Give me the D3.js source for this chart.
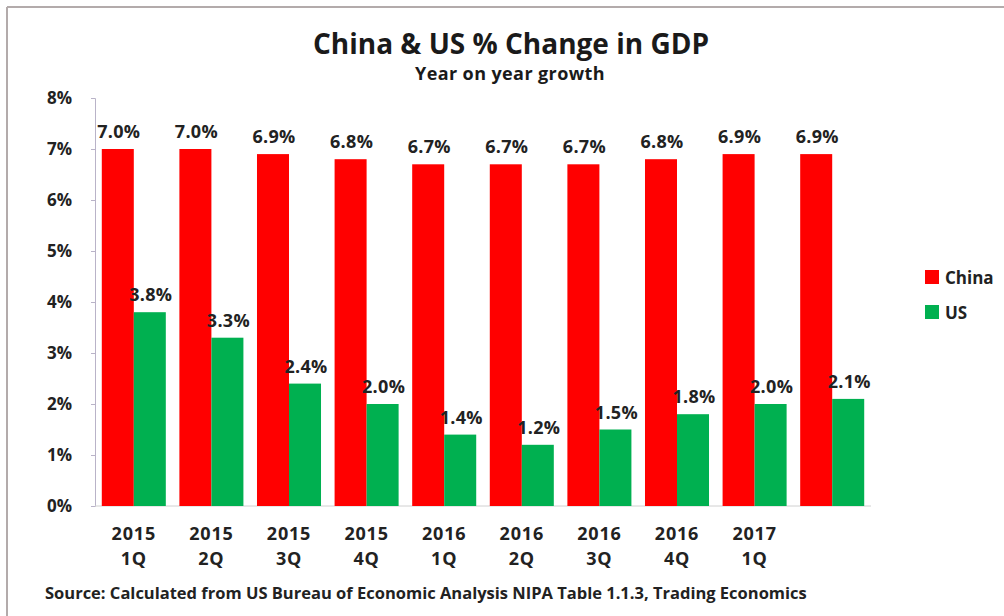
<!DOCTYPE html>
<html>
<head>
<meta charset="utf-8">
<script src="https://cdn.jsdelivr.net/npm/d3@7"></script>
<style>
  html, body { margin: 0; padding: 0; background: #fff; }
  svg { display: block; font-family: "Open Sans", Lato, sans-serif; }
</style>
</head>
<body>
<svg id="chart" width="1004" height="616"></svg>
<script>
// Quarterly year-on-year GDP growth, percent
const quarters = ["2015 1Q", "2015 2Q", "2015 3Q", "2015 4Q", "2016 1Q", "2016 2Q", "2016 3Q", "2016 4Q", "2017 1Q", ""];
const china = [7.0, 7.0, 6.9, 6.8, 6.7, 6.7, 6.7, 6.8, 6.9, 6.9];
const us = [3.8, 3.3, 2.4, 2.0, 1.4, 1.2, 1.5, 1.8, 2.0, 2.1];
const seriesNames = ["China", "US"];
const seriesColors = ["#ff0000", "#00b050"];
const yTicks = [0, 1, 2, 3, 4, 5, 6, 7, 8];

const svg = d3.select("#chart");
const textColor = "#222";

// frame lines along top and left edge
svg.append("line").attr("x1", 7).attr("x2", 1004).attr("y1", 7).attr("y2", 7)
  .attr("stroke", "#b3abab").attr("stroke-width", 2);
svg.append("line").attr("x1", 7).attr("x2", 7).attr("y1", 7).attr("y2", 616)
  .attr("stroke", "#b3abab").attr("stroke-width", 2);

// titles
svg.append("text").attr("x", 511).attr("y", 54).attr("text-anchor", "middle")
  .attr("font-size", 28).attr("font-weight", 700).attr("fill", "#1a1a1a")
  .text("China & US % Change in GDP");
svg.append("text").attr("x", 510).attr("y", 80).attr("text-anchor", "middle")
  .attr("font-size", 18).attr("font-weight", 700).attr("fill", "#1a1a1a")
  .attr("letter-spacing", 0.4)
  .text("Year on year growth");

const plot = { left: 95, right: 871, top: 98, bottom: 506 };

const x0 = d3.scaleBand().domain(d3.range(quarters.length))
  .range([plot.left, plot.right]).paddingInner(0.175).paddingOuter(0.0875);
const x1 = d3.scaleBand().domain(seriesNames).range([0, x0.bandwidth()]);
const y = d3.scaleLinear().domain([0, 8]).range([plot.bottom, plot.top]);

// y axis
const yAxis = svg.append("g").attr("transform", `translate(${plot.left},0)`)
  .call(d3.axisLeft(y).tickValues(yTicks).tickFormat(d => d + "%").tickSize(4).tickPadding(19));
yAxis.select(".domain").attr("stroke", "#b9b3c8");
yAxis.selectAll(".tick line").attr("stroke", "#b9b3c8");
yAxis.selectAll(".tick text").attr("font-size", 17).attr("font-weight", 700)
  .attr("fill", textColor).attr("font-family", "'Open Sans', sans-serif");

// x axis line
svg.append("line").attr("x1", plot.left).attr("x2", plot.right)
  .attr("y1", y(0)).attr("y2", y(0)).attr("stroke", "#d0d0d0");

const groups = svg.append("g").selectAll("g")
  .data(quarters.map((q, i) => ({ i, values: [china[i], us[i]] })))
  .join("g")
  .attr("transform", d => `translate(${x0(d.i)},0)`);

groups.selectAll("rect")
  .data(d => d.values.map((v, k) => ({ v, k })))
  .join("rect")
  .attr("x", d => x1(seriesNames[d.k]))
  .attr("width", x1.bandwidth())
  .attr("y", d => y(d.v))
  .attr("height", d => y(0) - y(d.v))
  .attr("fill", d => seriesColors[d.k]);

groups.selectAll("text.val")
  .data(d => d.values.map((v, k) => ({ v, k })))
  .join("text")
  .attr("class", "val")
  .attr("x", d => x1(seriesNames[d.k]) + x1.bandwidth() / 2 + 1)
  .attr("y", d => y(d.v) - 11)
  .attr("text-anchor", "middle")
  .attr("font-size", 18).attr("font-weight", 700).attr("fill", textColor)
  .attr("letter-spacing", 0.3)
  .text(d => d.v.toFixed(1) + "%");

// two-line category labels
const xl = svg.append("g").selectAll("text")
  .data(quarters.map((q, i) => ({ i, parts: q ? q.split(" ") : [] })))
  .join("text")
  .attr("x", d => x0(d.i) + x0.bandwidth() / 2)
  .attr("text-anchor", "middle")
  .attr("font-size", 18).attr("font-weight", 700).attr("fill", textColor)
  .attr("letter-spacing", 0.8);
xl.selectAll("tspan").data(d => d.parts).join("tspan")
  .attr("x", function () { return d3.select(this.parentNode).attr("x"); })
  .attr("y", (d, j) => 540 + j * 25)
  .text(d => d);

// legend
const legend = svg.append("g").selectAll("g").data(seriesNames).join("g")
  .attr("transform", (d, i) => `translate(925,${270 + i * 35})`);
legend.append("rect").attr("width", 14).attr("height", 14)
  .attr("fill", (d, i) => seriesColors[i]);
legend.append("text").attr("x", 20).attr("y", 13.5)
  .attr("font-size", 17).attr("font-weight", 700).attr("fill", textColor)
  .text(d => d);

// source note
svg.append("text").attr("x", 45).attr("y", 599)
  .attr("font-size", 16.5).attr("font-weight", 700).attr("fill", textColor)
  .text("Source: Calculated from US Bureau of Economic Analysis NIPA Table 1.1.3, Trading Economics");
</script>
</body>
</html>
